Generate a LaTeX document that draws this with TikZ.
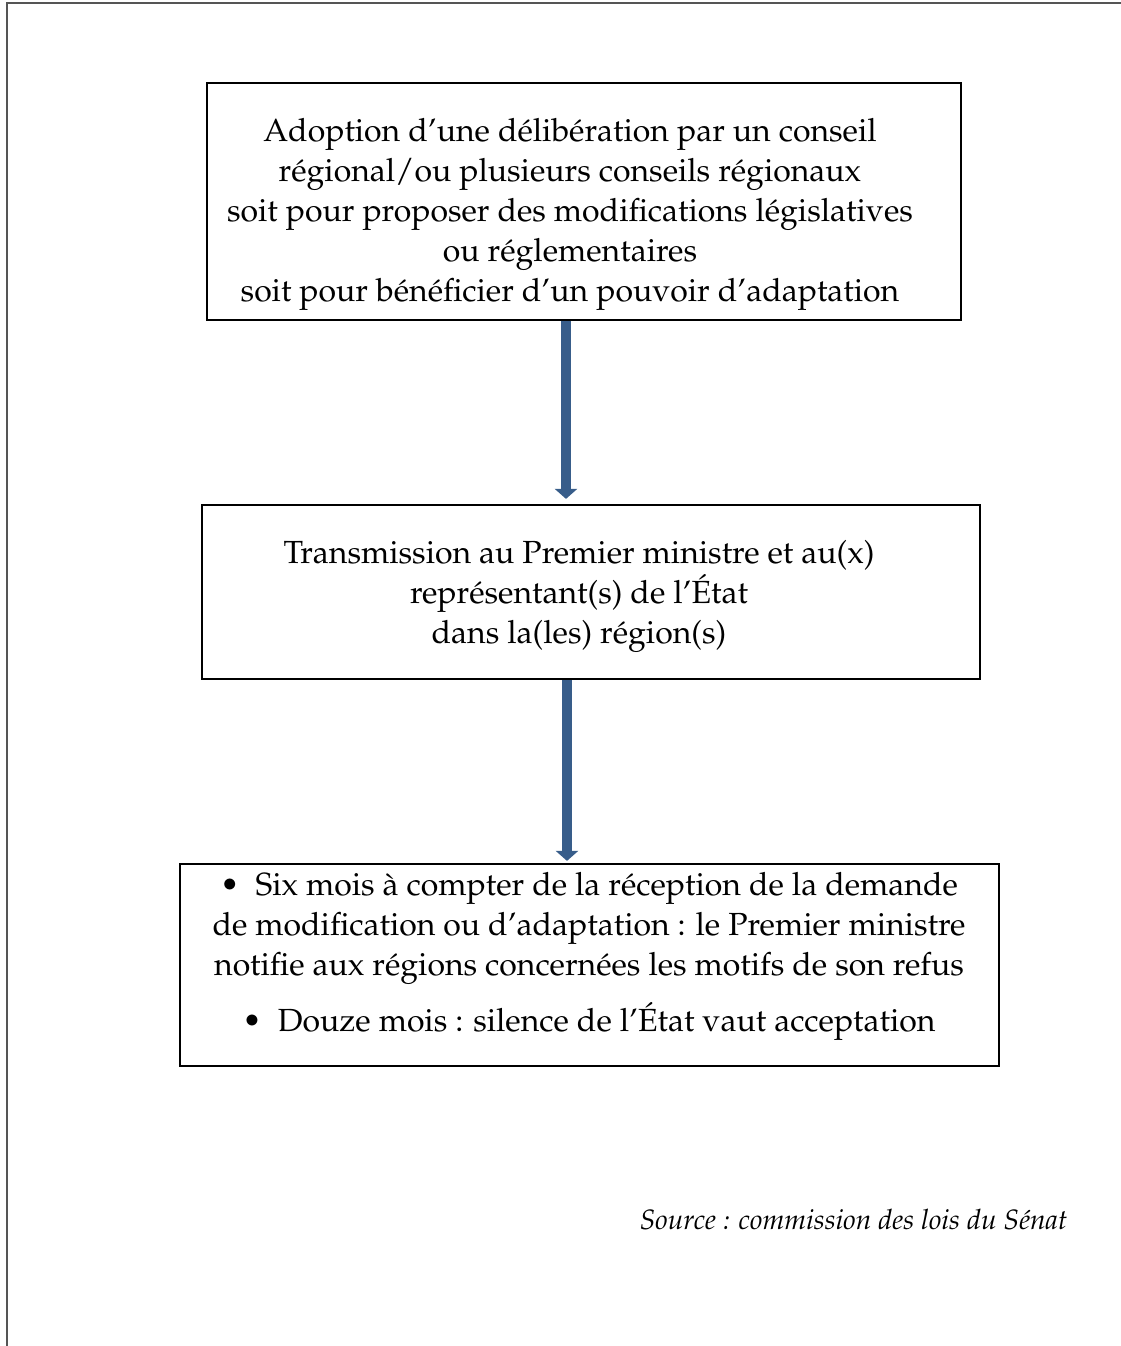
\documentclass[tikz,border=0pt]{standalone}
\usepackage[T1]{fontenc}
\usepackage{mathpazo}
\usepackage{tikz}
\usetikzlibrary{arrows.meta, calc}

\definecolor{fleche}{HTML}{385D8A}
\definecolor{cadregris}{HTML}{555555}

\tikzset{
	etape/.style={draw, line width=2.2pt, rectangle, inner sep=0pt},
	texte/.style={align=center, font=\fontsize{32}{40}\selectfont},
	flux/.style={-{Triangle[width=22pt, length=10pt]}, line width=10pt, draw=fleche, fill=fleche}
}

\begin{document}
\begin{tikzpicture}[x=1pt, y=-1pt]
	\useasboundingbox (0,0) rectangle (1121,1346);

	% cadre de la page
	\draw[cadregris, line width=1.6pt] (7,1346) -- (7,3) -- (1121,3);

	\node[etape, minimum width=754pt, minimum height=237pt] (adoption) at (584,201.5) {};
	\node[texte] (adoptiontxt) at (570,214)
		{Adoption d'une délibération par un conseil\\
		 régional/ou plusieurs conseils régionaux\\
		 soit pour proposer des modifications législatives\\
		 ou réglementaires\\
		 soit pour bénéficier d'un pouvoir d'adaptation};

	\node[etape, minimum width=778pt, minimum height=174pt] (transmission) at (591,592) {};
	\node[texte] (transmissiontxt) at (579,596)
		{Transmission au Premier ministre et au(x)\\
		 représentant(s) de l'État\\
		 dans la(les) région(s)};

	\node[etape, minimum width=819pt, minimum height=202pt] (delais) at (589.5,965) {};
	\node[texte] (delaistxt) at (589,956)
		{\textbullet\enspace Six mois à compter de la réception de la demande\\
		 de modification ou d'adaptation : le Premier ministre\\
		 notifie aux régions concernées les motifs de son refus\\[16pt]
		 \textbullet\enspace Douze mois : silence de l'État vaut acceptation};

	\node[anchor=east, font=\fontsize{28}{32}\selectfont\itshape] (source) at (1071,1220)
		{Source : commission des lois du Sénat};

	\coordinate (axe1) at (566,0);
	\coordinate (axe2) at (567,0);
	\draw[flux, shorten >=5pt] (adoption.south -| axe1) -- (transmission.north -| axe1);
	\draw[flux, shorten >=2pt] (transmission.south -| axe2) -- (delais.north -| axe2);
\end{tikzpicture}
\end{document}
